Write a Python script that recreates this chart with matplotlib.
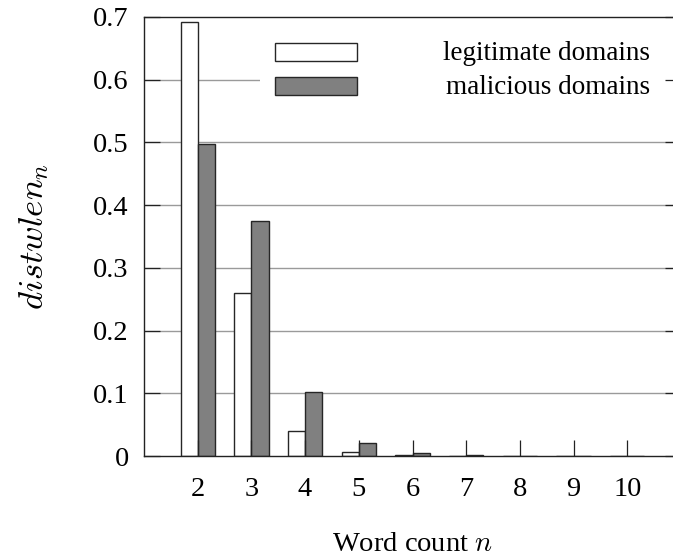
import matplotlib
matplotlib.use("Agg")
import matplotlib.pyplot as plt
from matplotlib.patches import Rectangle
import numpy as np

plt.rcParams["font.family"] = ["Liberation Serif", "DejaVu Serif"]
plt.rcParams["mathtext.fontset"] = "cm"

# Distribution of word counts per domain name
word_counts = [2, 3, 4, 5, 6, 7, 8, 9, 10]
legitimate = [0.692, 0.260, 0.040, 0.007, 0.0015, 0.0005, 0.0, 0.0, 0.0]
malicious = [0.498, 0.374, 0.102, 0.021, 0.004, 0.001, 0.0, 0.0, 0.0]
series_labels = ["legitimate domains", "malicious domains"]
y_ticks = [0, 0.1, 0.2, 0.3, 0.4, 0.5, 0.6, 0.7]

W, H = 673, 558
fig = plt.figure(figsize=(W / 100, H / 100), dpi=100)
left, right, top, bottom = 144, 681, 17, 456
ax = fig.add_axes([left / W, (H - bottom) / H, (right - left) / W, (bottom - top) / H])

x = np.array(word_counts, dtype=float)
bw = 0.32
edge = "#262626"
ax.bar(x - bw / 2, legitimate, width=bw, color="white", edgecolor=edge, linewidth=1.0, zorder=1)
ax.bar(x + bw / 2, malicious, width=bw, color="#808080", edgecolor=edge, linewidth=1.0, zorder=1)

# horizontal grid behind the bars
for yv in y_ticks[1:-1]:
    ax.axhline(yv, color="#9a9a9a", linewidth=1.0, zorder=0.3)

ax.set_xlim(1, 11)
ax.set_ylim(0, 0.7)
ax.set_xticks(word_counts)
ax.set_xticklabels([str(v) for v in word_counts])
ax.set_yticks(y_ticks)
ax.set_yticklabels(["0"] + [f"{v:.1f}" for v in y_ticks[1:]])

ax.tick_params(axis="both", direction="in", length=11.5, width=0.9, color="#222222",
               labelsize=20.5)
ax.tick_params(axis="y", right=True, pad=11)
ax.tick_params(axis="x", top=False, pad=15)
for s in ax.spines.values():
    s.set_linewidth(1.0)
    s.set_color("#222222")

ax.set_xlabel("Word count $n$", fontsize=20.5, labelpad=22)
ax.set_ylabel(r"$distwlen_n$", fontsize=25, labelpad=30)

# key with opaque background
ax.add_patch(Rectangle((0.216, 0.80), 0.775, 0.17, transform=ax.transAxes,
                       facecolor="white", edgecolor="none", zorder=0.6))
key_fills = ["white", "#808080"]
key_y = [(0.8998, 0.9415), (0.8223, 0.864)]
for lab, fc, (y0, y1) in zip(series_labels, key_fills, key_y):
    ax.add_patch(Rectangle((0.244, y0), 0.397 - 0.244, y1 - y0, transform=ax.transAxes,
                           facecolor=fc, edgecolor=edge, linewidth=1.0, zorder=3))
    ax.text(0.942, (y0 + y1) / 2 - 0.004, lab, transform=ax.transAxes, ha="right",
            va="center", fontsize=19.5, zorder=3)

fig.savefig("out.png", dpi=100)
